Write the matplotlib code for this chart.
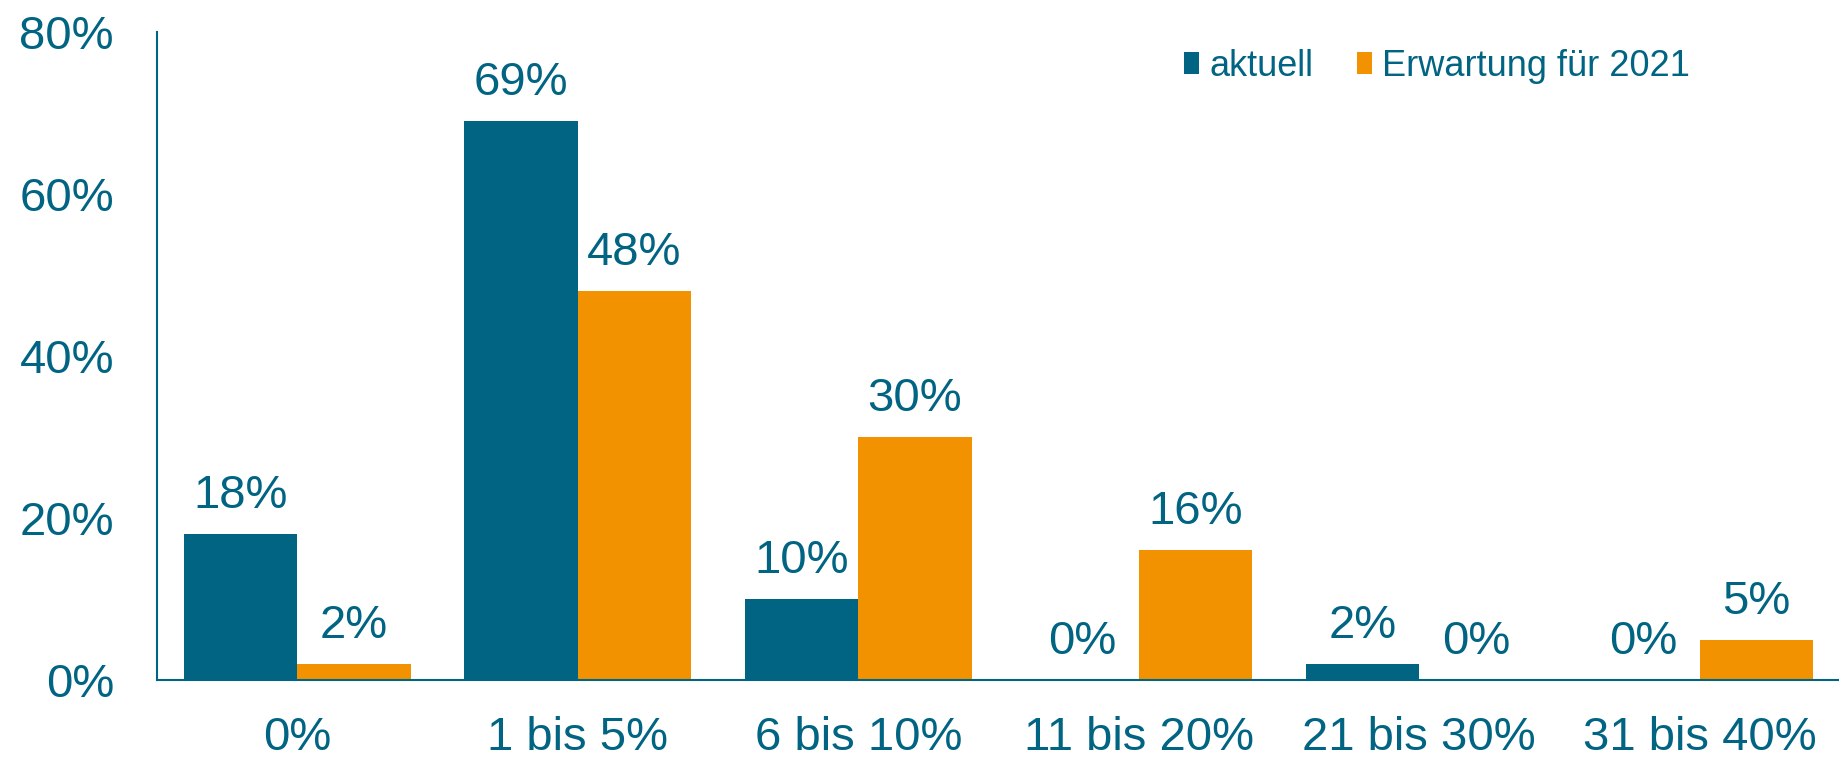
import matplotlib
matplotlib.use("Agg")
import matplotlib.pyplot as plt
import numpy as np

categories = ["0%", "1 bis 5%", "6 bis 10%", "11 bis 20%", "21 bis 30%", "31 bis 40%"]
aktuell = [18, 69, 10, 0, 2, 0]
erwartung = [2, 48, 30, 16, 0, 5]
series_names = ["aktuell", "Erwartung für 2021"]
yticks = [0, 20, 40, 60, 80]

TEAL = "#006482"
ORANGE = "#F39200"

plt.rcParams['font.family'] = ['Liberation Sans', 'DejaVu Sans']

fig = plt.figure(figsize=(18.4, 7.57), dpi=100)
ax = fig.add_axes([0.0853, 0.1017, 0.9147, 0.856])

x = np.arange(len(categories))
w = 0.405
b1 = ax.bar(x - w/2, aktuell, w, color=TEAL, label=series_names[0])
b2 = ax.bar(x + w/2, erwartung, w, color=ORANGE, label=series_names[1])

for bars, vals in ((b1, aktuell), (b2, erwartung)):
    for rect, v in zip(bars, vals):
        ax.annotate(f"{v}%", (rect.get_x() + rect.get_width()/2, v),
                    xytext=(0, 11.5), textcoords="offset points",
                    ha="center", va="bottom", fontsize=34, color=TEAL)

ax.set_xlim(-0.5, len(categories) - 0.5)
ax.set_ylim(0, 80)
ax.set_yticks(yticks)
ax.set_yticklabels([f"{t}%" for t in yticks])
ax.set_xticks(x)
ax.set_xticklabels(categories)
ax.tick_params(axis="both", length=0, labelsize=34, labelcolor=TEAL)
ax.tick_params(axis="y", pad=31)
ax.tick_params(axis="x", pad=26)

for s in ("top", "right"):
    ax.spines[s].set_visible(False)
for s in ("left", "bottom"):
    ax.spines[s].set_color(TEAL)
    ax.spines[s].set_linewidth(1.5)

leg = ax.legend(loc="center right", bbox_to_anchor=(0.911, 0.947), ncol=2, frameon=False,
                fontsize=26, handlelength=0.4, handleheight=0.55, handletextpad=0.3,
                columnspacing=1.2, labelcolor=TEAL, borderpad=0, borderaxespad=0)

fig.savefig("out.png", dpi=100)
